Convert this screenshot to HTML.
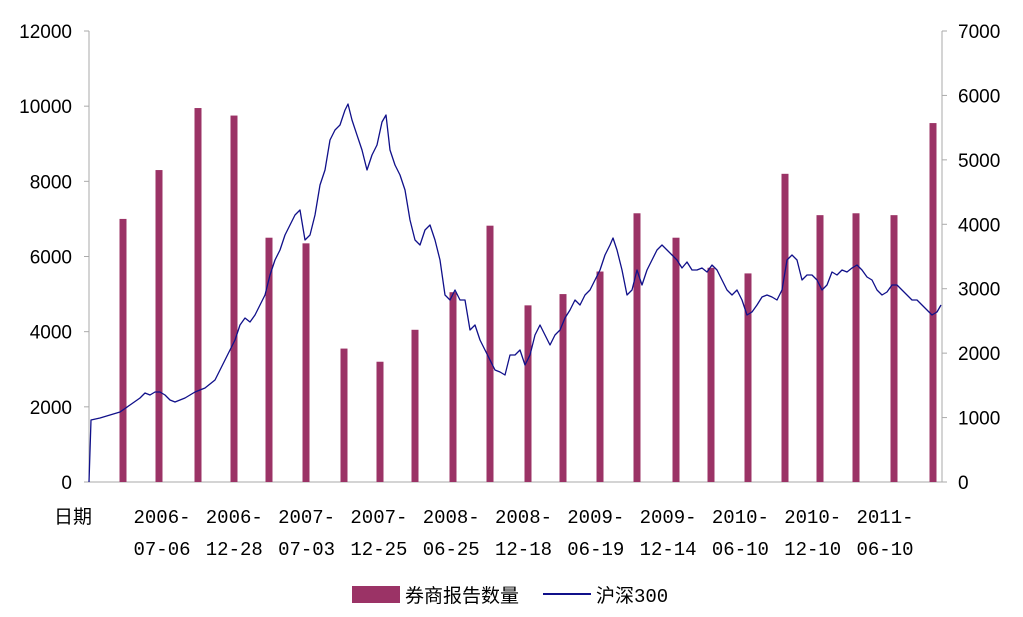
<!DOCTYPE html>
<html><head><meta charset="utf-8">
<style>
body{margin:0;background:#fff;}
svg text{font-family:"Liberation Sans","Noto Sans CJK SC",sans-serif;font-size:19px;fill:#000;}
svg text.mono{font-family:"Liberation Mono","Noto Sans CJK SC",monospace;font-size:19px;}
</style></head>
<body>
<svg id="chart" width="1023" height="612"></svg>
<script>
const barT=[34,70,109,145,180,217,255,291,326,364,401,439,474,511,548,587,622,659,696,731,767,805,844];
const reportCounts=[7000,8300,9950,9750,6500,6350,3550,3200,4050,5050,6820,4700,5000,5600,7150,6500,5700,5550,8200,7100,7150,7100,9550];
const lineT=[0,2,11,21,31,41,51,56,61,66,71,76,81,86,96,106,116,126,136,146,151,156,161,166,171,176,181,186,191,196,201,206,211,216,221,226,231,236,241,246,251,256,259,263,268,273,278,283,288,293,297,301,306,311,316,321,326,331,336,341,346,351,356,361,366,371,376,381,386,391,396,401,406,411,416,421,426,431,436,441,446,451,456,461,466,471,476,481,486,491,496,501,506,511,516,521,524,528,533,538,543,548,553,558,563,568,573,578,583,588,593,598,603,608,613,618,623,628,633,638,643,648,653,658,663,668,673,678,683,688,693,698,703,708,713,718,723,728,733,738,743,748,753,758,763,768,773,778,783,788,793,798,803,808,813,818,823,828,833,838,843,848,852];
const csi300=[0,962,993,1040,1086,1195,1304,1381,1350,1397,1397,1350,1273,1242,1304,1397,1459,1583,1893,2204,2437,2545,2483,2592,2747,2902,3213,3445,3601,3833,3989,4144,4221,3756,3833,4144,4609,4842,5308,5463,5541,5773,5867,5618,5385,5153,4842,5075,5230,5587,5696,5153,4920,4765,4532,4066,3756,3678,3911,3989,3756,3445,2902,2825,2980,2825,2825,2359,2437,2204,2049,1893,1738,1707,1661,1971,1971,2049,1816,1971,2281,2437,2281,2126,2281,2359,2545,2669,2825,2747,2902,2980,3135,3290,3523,3678,3787,3601,3290,2902,2980,3290,3057,3290,3445,3601,3678,3601,3523,3445,3321,3414,3290,3290,3321,3259,3368,3290,3135,2980,2902,2980,2825,2592,2638,2747,2871,2902,2871,2825,2980,3445,3523,3445,3135,3213,3213,3135,2980,3057,3259,3213,3290,3259,3321,3368,3290,3182,3135,2980,2902,2949,3057,3057,2980,2902,2825,2825,2747,2669,2592,2638,2747];
const leftTicks=[0,2000,4000,6000,8000,10000,12000];
const rightTicks=[0,1000,2000,3000,4000,5000,6000,7000];
const xLabels=[["2006-","07-06"],["2006-","12-28"],["2007-","07-03"],["2007-","12-25"],["2008-","06-25"],["2008-","12-18"],["2009-","06-19"],["2009-","12-14"],["2010-","06-10"],["2010-","12-10"],["2011-","06-10"]];

const svg=document.getElementById('chart');
const NS='http://www.w3.org/2000/svg';
const X0=89,X1=942,Y0=482,Y1=31;
const yL=v=>Y0-(v/12000)*(Y0-Y1);
const yR=v=>Y0-(v/7000)*(Y0-Y1);
const xT=t=>X0+t;
function mk(tag,attrs,parent){const e=document.createElementNS(NS,tag);for(const k in attrs)e.setAttribute(k,attrs[k]);(parent||svg).appendChild(e);return e;}

const axes=mk('g',{});


mk('line',{x1:X0,y1:Y1,x2:X0,y2:Y0,stroke:'#aaa','stroke-width':1},axes);
mk('line',{x1:X1,y1:Y1,x2:X1,y2:Y0,stroke:'#aaa','stroke-width':1},axes);
mk('line',{x1:X0,y1:Y0,x2:X1,y2:Y0,stroke:'#aaa','stroke-width':1},axes);

leftTicks.forEach(v=>{
  const y=yL(v);
  mk('line',{x1:X0-5,y1:y,x2:X0,y2:y,stroke:'#aaa'},axes);
  const t=mk('text',{x:72,y:y+7,'text-anchor':'end'},axes);
  t.textContent=v;
  
  
});
rightTicks.forEach(v=>{
  const y=yR(v);
  mk('line',{x1:X1,y1:y,x2:X1+5,y2:y,stroke:'#aaa'},axes);
  const t=mk('text',{x:958,y:y+7,'text-anchor':'start'},axes);
  t.textContent=v;
  
  
});
const dl=mk('text',{x:54,y:523},axes);
dl.textContent='日期';


xLabels.forEach((l,i)=>{
  const cx=162+i*72.3;
  const t1=mk('text',{x:cx,y:523,'text-anchor':'middle','class':'mono'},axes);t1.textContent=l[0];
  
  
  const t2=mk('text',{x:cx,y:555,'text-anchor':'middle','class':'mono'},axes);t2.textContent=l[1];
  
  
});

const bars=mk('g',{});


reportCounts.forEach((v,i)=>{
  const x=xT(barT[i]);
  const r=mk('rect',{x:x-3.5,y:yL(v),width:7,height:Y0-yL(v),fill:'#9b3366'},bars);
  
  
});

const pts=csi300.map((v,i)=>xT(lineT[i]).toFixed(1)+','+yR(v).toFixed(1)).join(' ');
const pl=mk('polyline',{points:pts,fill:'none',stroke:'#10108a','stroke-width':1.3,'stroke-linejoin':'round'});



const lg=mk('g',{});


const sw=mk('rect',{x:352,y:586,width:48,height:17,fill:'#9b3366'},lg);


const lt1=mk('text',{x:405,y:602},lg);lt1.textContent='券商报告数量';


const ll=mk('line',{x1:543,y1:594,x2:591,y2:594,stroke:'#10108a','stroke-width':2},lg);


const lt2=mk('text',{x:596,y:602,'class':'mono'},lg);lt2.textContent='沪深300';


</script>
</body></html>
